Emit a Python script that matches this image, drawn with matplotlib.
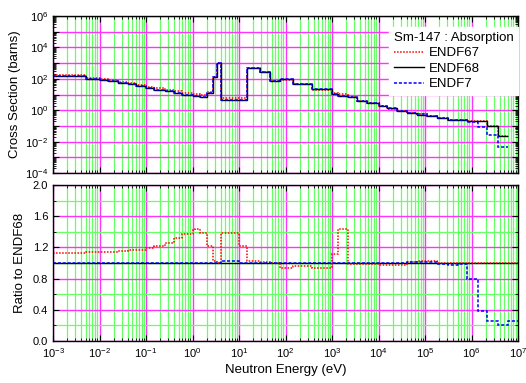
import numpy as np
import matplotlib
matplotlib.use('Agg')
import matplotlib.pyplot as plt
from matplotlib.ticker import LogLocator, FixedLocator, NullFormatter, FuncFormatter

plt.rcParams['font.family'] = ['Liberation Sans', 'DejaVu Sans']
plt.rcParams['mathtext.default'] = 'regular'

# group boundaries (eV)
edges = [1e-3, 5e-3, 1e-2, 1.5e-2, 2.5e-2, 4e-2, 6e-2, 0.1, 0.15, 0.25, 0.4, 0.6,
         1.0, 1.12, 1.45, 2.1, 2.7, 3.4, 4.1, 10, 15, 28, 47, 76, 145, 370,
         1e3, 1.35e3, 2.2e3, 3.5e3, 5.6e3, 1e4, 1.5e4, 2.5e4, 4e4, 6.7e4,
         1.1e5, 1.8e5, 3.1e5, 5.1e5, 8e5, 1.4e6, 2.2e6, 3.7e6, 6e6, 1e7]

# ENDF68 absorption cross section (barns), groups up to 6 MeV
sig68 = [158, 98, 85, 71, 55, 44, 34, 27, 21, 16, 12.6, 9.5, 8.0, 7.6, 6.6,
         12, 130, 980, 4.7, 4.7, 470, 280, 76, 93, 47, 22, 11.2, 7.9, 7.2,
         3.9, 2.75, 1.86, 1.32, 0.93, 0.69, 0.54, 0.43, 0.33, 0.25, 0.235,
         0.22, 0.214, 0.102, 0.024]

# ratios to ENDF68
ratio67 = [1.13, 1.135, 1.14, 1.145, 1.15, 1.16, 1.17, 1.19, 1.22, 1.26,
           1.32, 1.37, 1.42, 1.44, 1.38, 1.22, 1.02, 1.0, 1.38, 1.22, 1.03,
           1.01, 0.996, 0.936, 0.96, 0.94, 1.115, 1.43, 0.987, 0.987, 0.987,
           0.974, 0.974, 0.974, 1.01, 1.026, 1.026, 1.0, 1.0, 1.0, 1.0, 1.0,
           1.0, 1.0, 1.0]
ratio7 = [1.0, 1.0, 1.0, 1.0, 1.0, 1.0, 1.0, 1.0, 1.0, 1.0, 1.0, 1.0, 1.0,
          1.0, 1.0, 1.0, 1.0, 1.0, 1.03, 1.0, 1.0, 1.0, 1.0, 1.0, 1.0, 1.0,
          1.0, 1.0, 1.0, 1.0, 1.0, 1.0, 1.0, 1.0, 1.01, 1.01, 1.01, 0.98,
          0.97, 0.99, 0.79, 0.385, 0.25, 0.2, 0.256]

edges = np.array(edges)
sig68 = np.array(sig68)
ratio67 = np.array(ratio67)
ratio7 = np.array(ratio7)
n = len(sig68)
sig67 = sig68 * ratio67[:n]
sig7 = sig68 * ratio7[:n]

RED_LS = (0, (1, 1))
BLUE_LS = (0, (2, 1.2))
MAGENTA = '#ff33ff'
GREEN = '#66ff66'

fig = plt.figure(figsize=(5.26, 3.83), dpi=100)
ax1 = fig.add_axes([0.1008, 0.548, 0.884, 0.410])
ax2 = fig.add_axes([0.1008, 0.110, 0.884, 0.407])

def style_x(ax):
    ax.set_xscale('log')
    ax.set_xlim(1e-3, 1e7)
    ax.xaxis.set_major_locator(LogLocator(base=10, numticks=20))
    ax.xaxis.set_minor_locator(LogLocator(base=10, subs=np.arange(2, 10), numticks=20))
    ax.xaxis.set_minor_formatter(NullFormatter())
    ax.grid(True, which='minor', axis='x', color=GREEN, lw=0.9)
    ax.grid(True, which='major', axis='x', color=MAGENTA, lw=1.0)
    ax.tick_params(which='both', direction='in', top=True, right=True, labelsize=8)
    ax.tick_params(which='major', length=4, width=0.8)
    ax.tick_params(which='minor', length=2.5, width=0.6)
    for s in ax.spines.values():
        s.set_linewidth(1.0)
    ax.set_axisbelow(True)

# top panel
style_x(ax1)
ax1.set_yscale('log')
ax1.set_ylim(1e-4, 1e6)
ax1.yaxis.set_major_locator(LogLocator(base=10, numticks=20))
ax1.yaxis.set_minor_locator(LogLocator(base=10, subs=np.arange(2, 10), numticks=20))
ax1.yaxis.set_minor_formatter(NullFormatter())
ax1.yaxis.set_major_formatter(FuncFormatter(
    lambda v, p: '$10^{%d}$' % round(np.log10(v)) if round(np.log10(v)) % 2 == 0 else ''))
ax1.grid(True, which='major', axis='y', color=MAGENTA, lw=1.0)
ax1.tick_params(labelbottom=False)

ax1.stairs(sig67, edges[:n + 1], baseline=None, color='red', lw=1.1, ls=RED_LS, label='ENDF67')
ax1.stairs(sig68, edges[:n + 1], baseline=None, color='black', lw=1.0, label='ENDF68')
ax1.stairs(sig7, edges[:n + 1], baseline=None, color='blue', lw=1.1, ls=BLUE_LS, label='ENDF7')
ax1.set_ylabel('Cross Section (barns)', fontsize=9.5, labelpad=3)

leg = ax1.legend(loc='upper right', bbox_to_anchor=(1.0, 0.93),
                 title='Sm-147 : Absorption', fontsize=9.5, title_fontsize=9.5,
                 frameon=True, fancybox=False, framealpha=1, edgecolor='white',
                 handlelength=2.3, handletextpad=0.4, borderaxespad=0.0,
                 labelspacing=0.25, borderpad=0.35, alignment='left')

# bottom panel
style_x(ax2)
ax2.set_ylim(0, 2.0)
ax2.yaxis.set_major_locator(FixedLocator([0.0, 0.4, 0.8, 1.2, 1.6, 2.0]))
ax2.yaxis.set_minor_locator(FixedLocator([0.2, 0.6, 1.0, 1.4, 1.8]))
ax2.yaxis.set_major_formatter(FuncFormatter(lambda v, p: '%.1f' % v))
ax2.grid(True, which='minor', axis='y', color=GREEN, lw=0.9)
ax2.grid(True, which='major', axis='y', color=MAGENTA, lw=1.0)

ax2.stairs(np.ones(len(ratio67)), edges, baseline=None, color='black', lw=1.0)
ax2.stairs(ratio67, edges, baseline=None, color='red', lw=1.1, ls=RED_LS)
ax2.stairs(ratio7, edges, baseline=None, color='blue', lw=1.1, ls=BLUE_LS)
ax2.set_ylabel('Ratio to ENDF68', fontsize=9.5, labelpad=5)
ax2.set_xlabel('Neutron Energy (eV)', fontsize=9.5, labelpad=3)

fig.savefig('out.png', dpi=100)
